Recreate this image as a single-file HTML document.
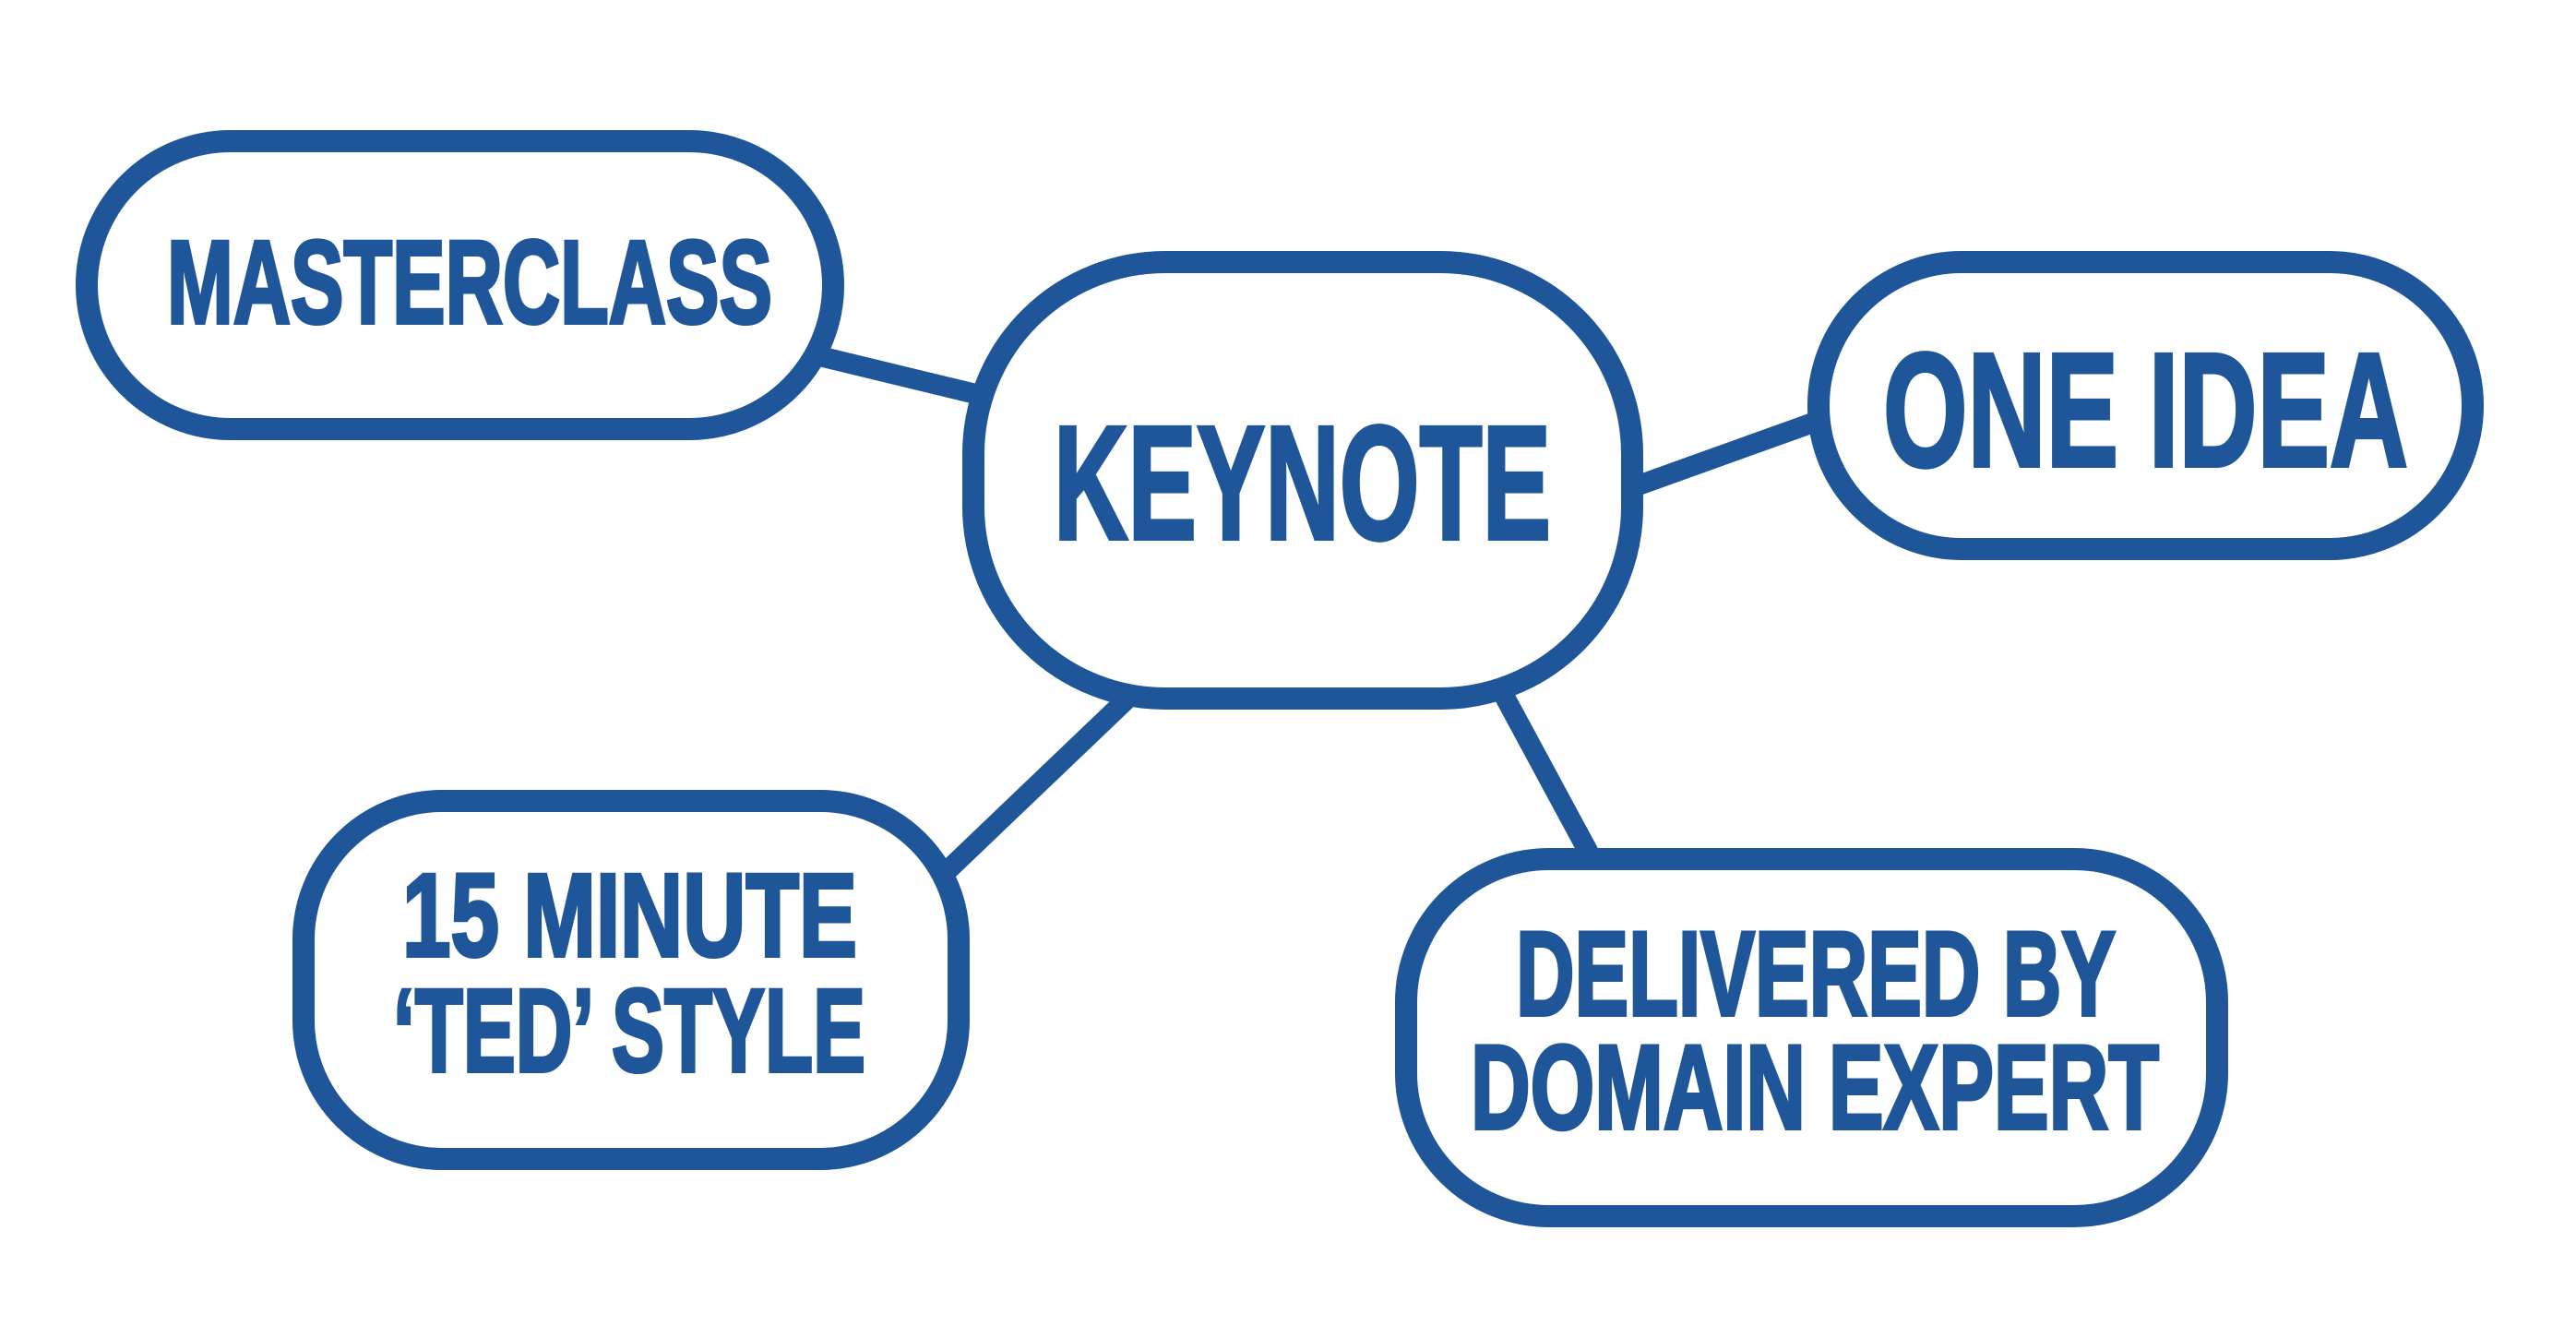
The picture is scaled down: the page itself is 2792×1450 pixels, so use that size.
<!DOCTYPE html>
<html><head><meta charset="utf-8"><style>
html,body{margin:0;padding:0;background:#fff;}
svg{display:block;}
text{font-family:"Liberation Sans",sans-serif;font-weight:bold;fill:#1f569a;stroke:#1f569a;stroke-width:4;}
</style></head><body>
<svg width="2792" height="1450" viewBox="0 0 2792 1450" xmlns="http://www.w3.org/2000/svg">
<g stroke="#1f569a" stroke-width="22" stroke-linecap="butt">
<line x1="880" y1="384" x2="1070" y2="430"/>
<line x1="1770" y1="528" x2="1968" y2="457"/>
<line x1="1222" y1="757" x2="1020" y2="950"/>
<line x1="1627" y1="748" x2="1722" y2="924"/>
</g>
<g fill="#fff" stroke="#1f569a" stroke-width="24">
<rect x="94" y="153" width="809" height="312" rx="156"/>
<rect x="1055" y="284" width="714" height="473" rx="208"/>
<rect x="1971" y="284" width="709" height="311" rx="155"/>
<rect x="329" y="868" width="710" height="388" rx="150"/>
<rect x="1524" y="931" width="879" height="387" rx="155"/>
</g>
<text x="181" y="350" font-size="128" textLength="656" lengthAdjust="spacingAndGlyphs">MASTERCLASS</text>
<text x="1142" y="584" font-size="176" textLength="539" lengthAdjust="spacingAndGlyphs">KEYNOTE</text>
<text x="2041" y="505" font-size="176" textLength="569" lengthAdjust="spacingAndGlyphs">ONE IDEA</text>
<text x="436" y="1036" font-size="128" textLength="493" lengthAdjust="spacingAndGlyphs">15 MINUTE</text>
<text x="426" y="1161" font-size="128" textLength="512" lengthAdjust="spacingAndGlyphs">‘TED’ STYLE</text>
<text x="1643" y="1100" font-size="130" textLength="650" lengthAdjust="spacingAndGlyphs">DELIVERED BY</text>
<text x="1594" y="1223" font-size="130" textLength="746" lengthAdjust="spacingAndGlyphs">DOMAIN EXPERT</text>
</svg>
</body></html>
